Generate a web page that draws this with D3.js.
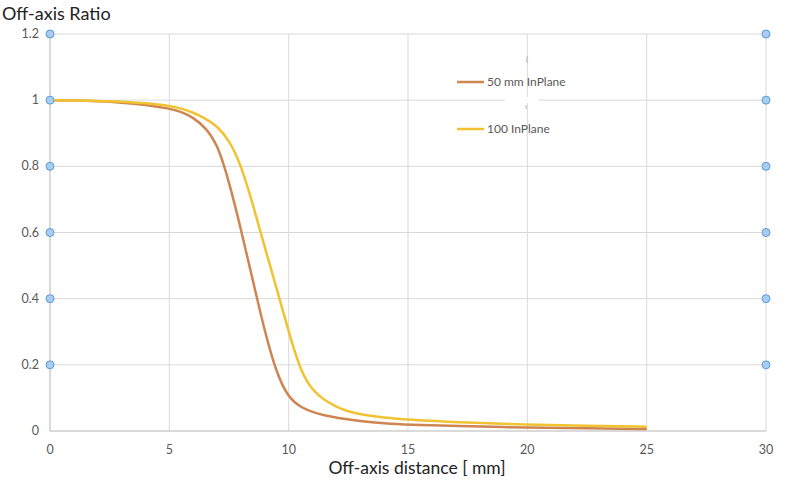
<!DOCTYPE html>
<html>
<head>
<meta charset="utf-8">
<script src="https://cdn.jsdelivr.net/npm/d3@7"></script>
<style>
  body { margin: 0; background: #fff; }
  svg { display: block; font-family: Lato, "Open Sans", sans-serif; }
  .tick-label { fill: #595959; font-size: 12.5px; }
</style>
</head>
<body>
<svg id="chart" width="800" height="486"></svg>
<script>
// off-axis ratio profiles
const x50 = [0, 1, 2, 3, 4, 5, 5.5, 6, 6.5, 7, 7.5, 8, 8.5, 9, 9.5, 10, 10.5, 11, 11.5, 12, 13, 14, 15, 17, 20, 22.5, 25];
const y50 = [1.0, 0.999, 0.997, 0.993, 0.986, 0.975, 0.965, 0.948, 0.918, 0.870, 0.755, 0.610, 0.455, 0.300, 0.172, 0.100, 0.072, 0.057, 0.047, 0.040, 0.030, 0.023, 0.019, 0.015, 0.010, 0.008, 0.006];

const x100 = [0, 1, 2, 3, 4, 5, 5.5, 6, 6.5, 7, 7.5, 8, 8.5, 9, 9.5, 10, 10.5, 11, 11.5, 12, 12.5, 13, 14, 15, 17, 20, 22.5, 25];
const y100 = [1.0, 0.999, 0.998, 0.996, 0.991, 0.983, 0.975, 0.963, 0.945, 0.922, 0.880, 0.805, 0.685, 0.555, 0.430, 0.300, 0.180, 0.122, 0.093, 0.073, 0.059, 0.050, 0.040, 0.034, 0.026, 0.019, 0.016, 0.013];

// dummy marker series on both side axes
const markerY = [0.2, 0.4, 0.6, 0.8, 1.0, 1.2];
const markerX = [0, 30];

const xTicks = [0, 5, 10, 15, 20, 25, 30];
const yTicks = [0, 0.2, 0.4, 0.6, 0.8, 1, 1.2];

const seriesNames = ["50 mm InPlane", "100 InPlane"];
const seriesColors = ["#cf8550", "#f1c232"];

const svg = d3.select("#chart");

const x = d3.scaleLinear().domain([0, 30]).range([50, 766]);
const y = d3.scaleLinear().domain([0, 1.2]).range([431, 34]);

// grid
svg.append("g")
  .selectAll("line")
  .data(xTicks)
  .join("line")
  .attr("x1", (d) => x(d))
  .attr("x2", (d) => x(d))
  .attr("y1", y(1.2))
  .attr("y2", y(0))
  .attr("stroke", "#d9d9d9")
  .attr("stroke-width", 1);

svg.append("g")
  .selectAll("line")
  .data(yTicks)
  .join("line")
  .attr("x1", x(0))
  .attr("x2", x(30))
  .attr("y1", (d) => y(d))
  .attr("y2", (d) => y(d))
  .attr("stroke", "#d9d9d9")
  .attr("stroke-width", 1);

// axes lines a little darker
svg.append("line")
  .attr("x1", x(0)).attr("x2", x(30))
  .attr("y1", y(0)).attr("y2", y(0))
  .attr("stroke", "#c8c8c8");
svg.append("line")
  .attr("x1", x(0)).attr("x2", x(0))
  .attr("y1", y(1.2)).attr("y2", y(0))
  .attr("stroke", "#c8c8c8");

// tick labels
svg.append("g")
  .selectAll("text")
  .data(xTicks)
  .join("text")
  .attr("class", "tick-label")
  .attr("x", (d) => x(d))
  .attr("y", 454)
  .attr("text-anchor", "middle")
  .text((d) => d);

svg.append("g")
  .selectAll("text")
  .data(yTicks)
  .join("text")
  .attr("class", "tick-label")
  .attr("x", 39)
  .attr("y", (d) => y(d) + 4)
  .attr("text-anchor", "end")
  .text((d) => d);

// legend backdrop (hidden entries leave a white patch)
svg.append("rect")
  .attr("x", 505).attr("y", 97).attr("width", 34).attr("height", 6)
  .attr("fill", "#fff");
svg.append("text").attr("x", 526).attr("y", 62)
  .attr("fill", "#9a9a9a").attr("font-size", 8).text("(");
svg.append("text").attr("x", 525).attr("y", 109)
  .attr("fill", "#9a9a9a").attr("font-size", 8).text("ı");

// curves - basis spline to keep the profile smooth
const line = d3.line()
  .x((d) => x(d[0]))
  .y((d) => y(d[1]))
  .curve(d3.curveBasis);

const series = [
  d3.zip(x50, y50),
  d3.zip(x100, y100),
];

svg.append("g")
  .selectAll("path")
  .data(series)
  .join("path")
  .attr("d", line)
  .attr("fill", "none")
  .attr("stroke", (d, i) => seriesColors[i])
  .attr("stroke-width", 2.5)
  .attr("stroke-linejoin", "round");

// markers
const markerPts = [];
markerX.forEach((mx) => markerY.forEach((my) => markerPts.push([mx, my])));
svg.append("g")
  .selectAll("circle")
  .data(markerPts)
  .join("circle")
  .attr("cx", (d) => x(d[0]))
  .attr("cy", (d) => y(d[1]))
  .attr("r", 4)
  .attr("fill", "#a9cdf0")
  .attr("stroke", "#5b9bd5")
  .attr("stroke-width", 1);

// legend
const legend = svg.append("g")
  .selectAll("g")
  .data(seriesNames)
  .join("g")
  .attr("transform", (d, i) => `translate(457, ${82 + i * 47})`);

legend.append("line")
  .attr("x1", 0).attr("x2", 27)
  .attr("stroke", (d, i) => seriesColors[i])
  .attr("stroke-width", 2.5);

legend.append("text")
  .attr("x", 30)
  .attr("y", 4)
  .attr("fill", "#595959")
  .attr("font-size", 12)
  .text((d) => d);

// titles
svg.append("text")
  .attr("x", 2)
  .attr("y", 20)
  .attr("fill", "#222")
  .attr("font-size", 18)
  .text("Off-axis Ratio");

svg.append("text")
  .attr("x", 417)
  .attr("y", 474)
  .attr("text-anchor", "middle")
  .attr("fill", "#222")
  .attr("font-size", 17.5)
  .text("Off-axis distance [ mm]");
</script>
</body>
</html>
